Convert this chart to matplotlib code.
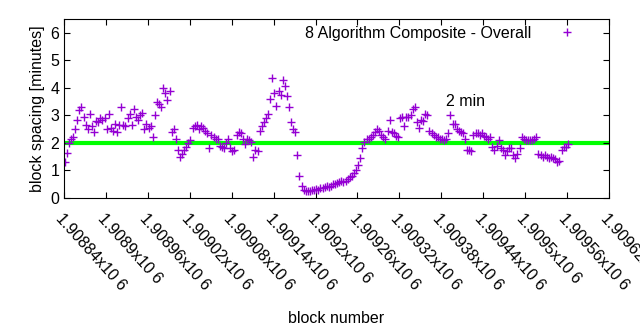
import numpy as np
import matplotlib
matplotlib.use("Agg")
import matplotlib.pyplot as plt

plt.rcParams['font.family'] = ['Liberation Sans', 'DejaVu Sans']

# block spacing in minutes, sampled every 3 blocks
first_block = 1908841
block_step = 3
spacing = [
    1.3, 1.65, 2.0, 2.15, 2.2, 2.5, 2.85, 3.2, 3.3, 2.95,
    2.65, 2.5, 3.05, 2.6, 2.4, 2.8, 2.75, 2.9, 2.85, 2.9,
    2.5, 3.05, 2.55, 2.45, 2.7, 2.4, 2.65, 3.3, 2.65, 2.6,
    2.9, 3.05, 2.65, 3.25, 2.95, 2.85, 3.0, 3.1, 2.5, 2.7,
    2.55, 2.6, 2.2, 3.0, 3.5, 3.4, 3.3, 4.0, 3.8, 3.55,
    3.9, 2.4, 2.5, 2.15, 1.75, 1.5, 1.6, 1.75, 1.85, 2.0,
    2.1, 2.55, 2.6, 2.65, 2.5, 2.6, 2.55, 2.45, 2.35, 1.8,
    2.3, 2.2, 2.15, 2.15, 1.9, 1.85, 1.8, 2.0, 2.15, 1.8,
    1.7, 1.75, 2.3, 2.4, 2.35, 2.15, 1.95, 2.15, 2.1, 2.05,
    1.5, 1.75, 1.7, 2.45, 2.6, 2.75, 2.9, 3.05, 3.6, 4.35,
    3.8, 3.35, 3.9, 3.75, 4.3, 4.05, 3.7, 3.3, 2.75, 2.5,
    2.4, 1.55, 0.8, 0.45, 0.3, 0.25, 0.27, 0.25, 0.3, 0.3,
    0.32, 0.3, 0.35, 0.38, 0.4, 0.42, 0.4, 0.45, 0.5, 0.5,
    0.55, 0.58, 0.6, 0.58, 0.6, 0.7, 0.75, 0.8, 0.92, 1.02,
    1.2, 1.45, 1.8, 2.05, 2.15, 2.15, 2.2, 2.3, 2.4, 2.5,
    2.45, 2.3, 2.2, 2.15, 2.45, 2.85, 2.4, 2.35, 2.25, 2.2,
    2.9, 2.95, 2.6, 2.95, 2.95, 3.0, 3.25, 3.3, 2.75, 2.55,
    2.85, 2.8, 3.05, 3.0, 2.45, 2.35, 2.3, 2.2, 2.2, 2.15,
    2.15, 2.1, 2.15, 2.35, 3.0, 2.7, 2.7, 2.5, 2.45, 2.4,
    2.35, 2.15, 1.75, 1.75, 1.7, 2.3, 2.35, 2.35, 2.3, 2.35,
    2.25, 2.2, 2.15, 2.2, 1.85, 1.75, 1.9, 2.1, 1.8, 1.75,
    1.55, 1.7, 1.8, 1.8, 1.55, 1.45, 1.6, 1.8, 2.2, 2.15,
    2.1, 2.1, 2.1, 2.1, 2.15, 2.2, 1.6, 1.55, 1.5, 1.55,
    1.5, 1.45, 1.5, 1.45, 1.4, 1.3, 1.35, 1.75, 1.85, 1.85,
    1.95,
]
blocks = first_block + block_step * np.arange(len(spacing))

target = 2.0
xticks = [1908840, 1908900, 1908960, 1909020, 1909080, 1909140, 1909200,
          1909260, 1909320, 1909380, 1909440, 1909500, 1909560, 1909620]
xtick_labels = ["1.90884x10 6", "1.9089x10 6", "1.90896x10 6", "1.90902x10 6",
                "1.90908x10 6", "1.90914x10 6", "1.9092x10 6", "1.90926x10 6",
                "1.90932x10 6", "1.90938x10 6", "1.90944x10 6", "1.9095x10 6",
                "1.90956x10 6", "1.90962x10 6"]

fig = plt.figure(figsize=(6.4, 3.3), dpi=100)
ax = fig.add_axes([0.1, 0.4, 0.8516, 0.5424])

ax.axhline(target, color='#00ff00', lw=3, zorder=1)
ax.plot(blocks, spacing, '+', color='#9400d3', ms=6, mew=1,
        label='8 Algorithm Composite - Overall', zorder=2)
ax.text(1909387, 3.5, '2 min', fontsize=11.5, ha='left', va='center')

ax.set_xlim(1908840, 1909620)
ax.set_ylim(0, 6.5)
ax.set_yticks(range(7))
ax.set_xticks(xticks)
ax.set_xticklabels(xtick_labels, rotation=-48, ha='left', va='top',
                   rotation_mode='anchor')
ax.tick_params(direction='in', top=True, right=True, length=4,
               labelsize=11.5)
ax.tick_params(axis='x', pad=9)
ax.set_xlabel('block number', fontsize=11.5)
ax.xaxis.set_label_coords(0.5, -0.63)
ax.set_ylabel('block spacing [minutes]', fontsize=11.5)

ax.legend(loc='upper right', markerfirst=False, frameon=False,
          fontsize=11.5, handlelength=2.0, handletextpad=1.2,
          borderaxespad=0.2, bbox_to_anchor=(0.969, 1.017))

fig.savefig('out.png', dpi=100)
